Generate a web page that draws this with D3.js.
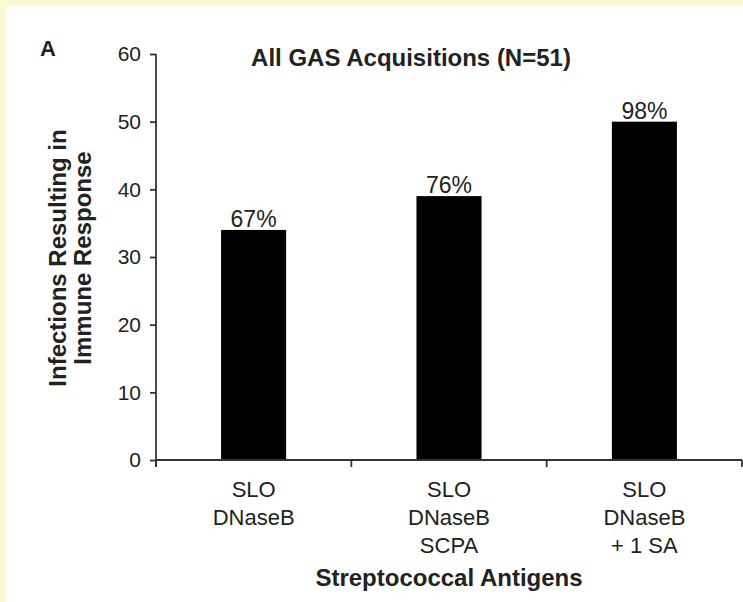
<!DOCTYPE html>
<html><head><meta charset="utf-8">
<script src="https://cdn.jsdelivr.net/npm/d3@7"></script>
<style>
html,body{margin:0;padding:0;background:#fff;}
svg{display:block;}
text{font-family:"Liberation Sans",Arial,sans-serif;fill:#222;}
</style></head>
<body>
<svg id="chart" width="743" height="602"></svg>
<script>
const categories = [["SLO","DNaseB"],["SLO","DNaseB","SCPA"],["SLO","DNaseB","+ 1 SA"]];
const values = [34, 39, 50];
const percentLabels = ["67%","76%","98%"];
const yTicks = [0,10,20,30,40,50,60];
const title = "All GAS Acquisitions (N=51)";
const yTitle = ["Infections Resulting in","Immune Response"];
const xTitle = "Streptococcal Antigens";

(function(){
const svg = d3.select("#chart");
svg.append("rect").attr("x",0).attr("y",0).attr("width",743).attr("height",602).attr("fill","#fcfad2");
svg.append("rect").attr("x",6).attr("y",6).attr("width",737).attr("height",596).attr("fill","#ffffff");

const pl = 156, pr = 742, pt = 54, pb = 460;
const idx = d3.range(values.length);
const x = d3.scaleBand().domain(idx).range([pl,pr]).paddingInner(0.667).paddingOuter(0.333);
const xAxisBand = d3.scaleBand().domain(idx).range([pl,pr]);
const y = d3.scaleLinear().domain([0,60]).range([pb,pt]);

svg.selectAll("rect.bar").data(values).join("rect").attr("class","bar")
  .attr("x",(d,i)=>x(i)).attr("width",x.bandwidth())
  .attr("y",d=>y(d)).attr("height",d=>y(0)-y(d)).attr("fill","#000");

svg.selectAll("text.pct").data(values).join("text").attr("class","pct")
  .attr("x",(d,i)=>x(i)+x.bandwidth()/2).attr("y",d=>y(d)-3)
  .attr("text-anchor","middle").attr("font-size",23).text((d,i)=>percentLabels[i]);

const yAxis = d3.axisLeft(y).tickValues(yTicks).tickSize(6).tickPadding(9);
const gy = svg.append("g").attr("transform",`translate(${pl},0)`).call(yAxis);
gy.select(".domain").attr("stroke","#333").attr("stroke-width",1.8).attr("d",`M0,${pt}V${pb+7}`);
gy.selectAll(".tick line").attr("stroke","#333").attr("stroke-width",1.8);
gy.selectAll(".tick text").attr("font-size",21).attr("fill","#222").attr("font-family","Liberation Sans, Arial, sans-serif");

const gx = svg.append("g").attr("transform",`translate(0,${pb})`);
gx.append("line").attr("x1",pl).attr("x2",pr).attr("y1",0).attr("y2",0).attr("stroke","#333").attr("stroke-width",1.8);
const bounds = idx.map(i=>xAxisBand(i)).concat([pr]);
gx.selectAll("line.xt").data(bounds).join("line").attr("class","xt")
  .attr("x1",d=>d).attr("x2",d=>d).attr("y1",0).attr("y2",7).attr("stroke","#333").attr("stroke-width",1.8);

const lab = svg.selectAll("text.cat").data(categories).join("text").attr("class","cat")
  .attr("text-anchor","middle").attr("font-size",22)
  .attr("transform",(d,i)=>`translate(${xAxisBand(i)+xAxisBand.bandwidth()/2},${pb+37})`);
lab.selectAll("tspan").data(d=>d).join("tspan").attr("x",0).attr("dy",(d,j)=>j===0?0:28).text(d=>d);

svg.append("text").attr("x",411).attr("y",66).attr("text-anchor","middle")
  .attr("font-size",24).attr("font-weight","bold").text(title);
svg.append("text").attr("x",40).attr("y",56).attr("font-size",22).attr("font-weight","bold").text("A");
svg.append("text").attr("x",449).attr("y",586).attr("text-anchor","middle")
  .attr("font-size",24).attr("font-weight","bold").text(xTitle);
const yt = svg.append("text").attr("font-size",24).attr("font-weight","bold").attr("text-anchor","middle")
  .attr("transform","translate(66,258) rotate(-90)");
yt.selectAll("tspan").data(yTitle).join("tspan").attr("x",0).attr("dy",(d,j)=>j===0?0:25).text(d=>d);
})();
</script>
</body></html>
